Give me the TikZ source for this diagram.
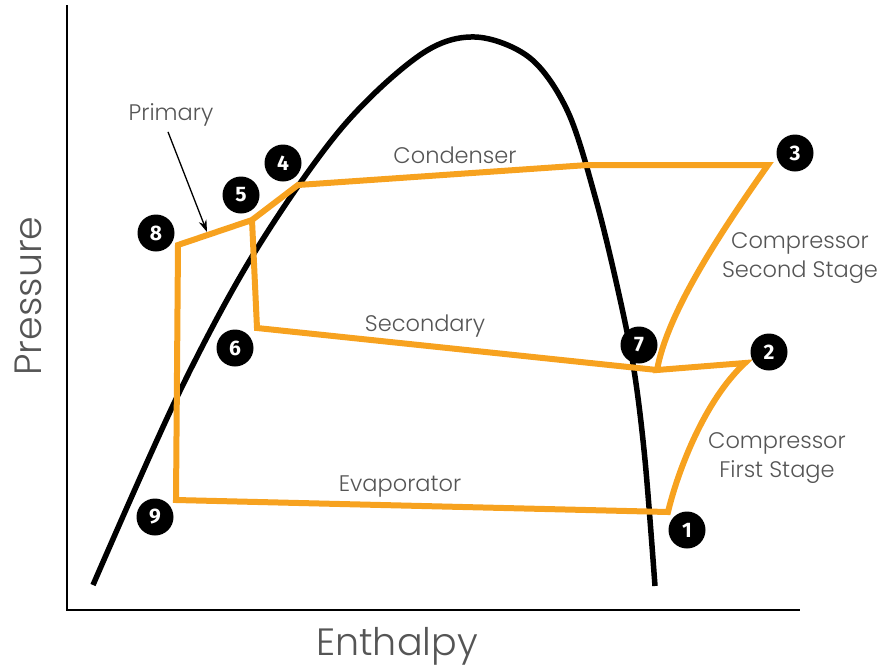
\documentclass[tikz,border=0pt]{standalone}
\usepackage{fontspec}
\setmainfont{Poppins}[UprightFont=* Light]
\newfontfamily\numfont{Fira Sans}
\usetikzlibrary{arrows.meta}
\definecolor{cycleorange}{RGB}{247,162,31}
\definecolor{labelgray}{RGB}{85,85,85}
\tikzset{
    axisline/.style={draw=black, line width=2.2pt},
    dome/.style={draw=black, line width=5.5pt},
    cycleline/.style={draw=cycleorange, line width=6pt, line join=miter},
    marker/.style={circle, fill=black, minimum size=37pt, inner sep=0pt,
        text=white, font=\numfont\bfseries\fontsize{21}{21}\selectfont},
    label/.style={text=labelgray, font=\fontsize{22.5}{29}\selectfont, align=center},
    axislabel/.style={text=labelgray, font=\fontsize{38}{40}\selectfont}
}

\begin{document}
\begin{tikzpicture}[x=1pt, y=-1pt]
    \useasboundingbox (0,0) rectangle (884,670);
    % axes
    \coordinate (top) at (67,5);
    \coordinate (origin) at (67,610);
    \coordinate (right) at (800,610);
    \draw[axisline] (top) -- (origin) -- (right);
    % saturation dome
    \draw[dome] plot[smooth, tension=0.55] coordinates {
        (93,585) (177,397) (253,255) (340,130) (420,55) (475,37)
        (530,58) (568,112) (596,200) (618,290) (634,370) (645,460)
        (655,586)};
    % cycle corners
    \coordinate (p1) at (668,512);
    \coordinate (p2) at (745,363);
    \coordinate (p3) at (768,165);
    \coordinate (c4) at (588,165);
    \coordinate (p4) at (298,185);
    \coordinate (p5) at (252,220);
    \coordinate (p6) at (257,328);
    \coordinate (p7) at (657,370);
    \coordinate (p8) at (178,245);
    \coordinate (p9) at (176,500);
    % primary loop
    \draw[cycleline] (p9) -- (p8) -- (p5) -- (p4) -- (c4) -- (p3)
        .. controls (715,240) and (667,315) .. (p7) -- (p2)
        .. controls (705,400) and (678,470) .. (p1) -- cycle;
    % secondary branch
    \draw[cycleline] (p5) -- (p6) -- (p7);
    % state markers
    \node[marker] (m1) at (687,530) {1};
    \node[marker] (m2) at (769,352) {2};
    \node[marker] (m3) at (795,153) {3};
    \node[marker] (m4) at (283,163) {4};
    \node[marker] (m5) at (241,195) {5};
    \node[marker] (m6) at (235,348) {6};
    \node[marker] (m7) at (639,345) {7};
    \node[marker] (m8) at (156,233) {8};
    \node[marker] (m9) at (155,517) {9};
    % labels
    \node[label] (primary) at (171,115) {Primary};
    \coordinate (primarytip) at (207,232);
    \draw[line width=1.3pt, -{Stealth[length=12pt, width=8pt]}]
        (primary.south) ++(-3,2) -- (primarytip);
    \node[label] (condenser) at (455,155) {Condenser};
    \node[label] (secondary) at (425,326) {Secondary};
    \node[label] (evaporator) at (400,487) {Evaporator};
    \node[label] (second) at (800,258) {Compressor\\Second Stage};
    \node[label] (first) at (777,458) {Compressor\\First Stage};
    \node[axislabel, anchor=base] (enthalpy) at (397,655) {Enthalpy};
    \node[axislabel, rotate=90] (pressure) at (28,296) {Pressure};
\end{tikzpicture}
\end{document}
